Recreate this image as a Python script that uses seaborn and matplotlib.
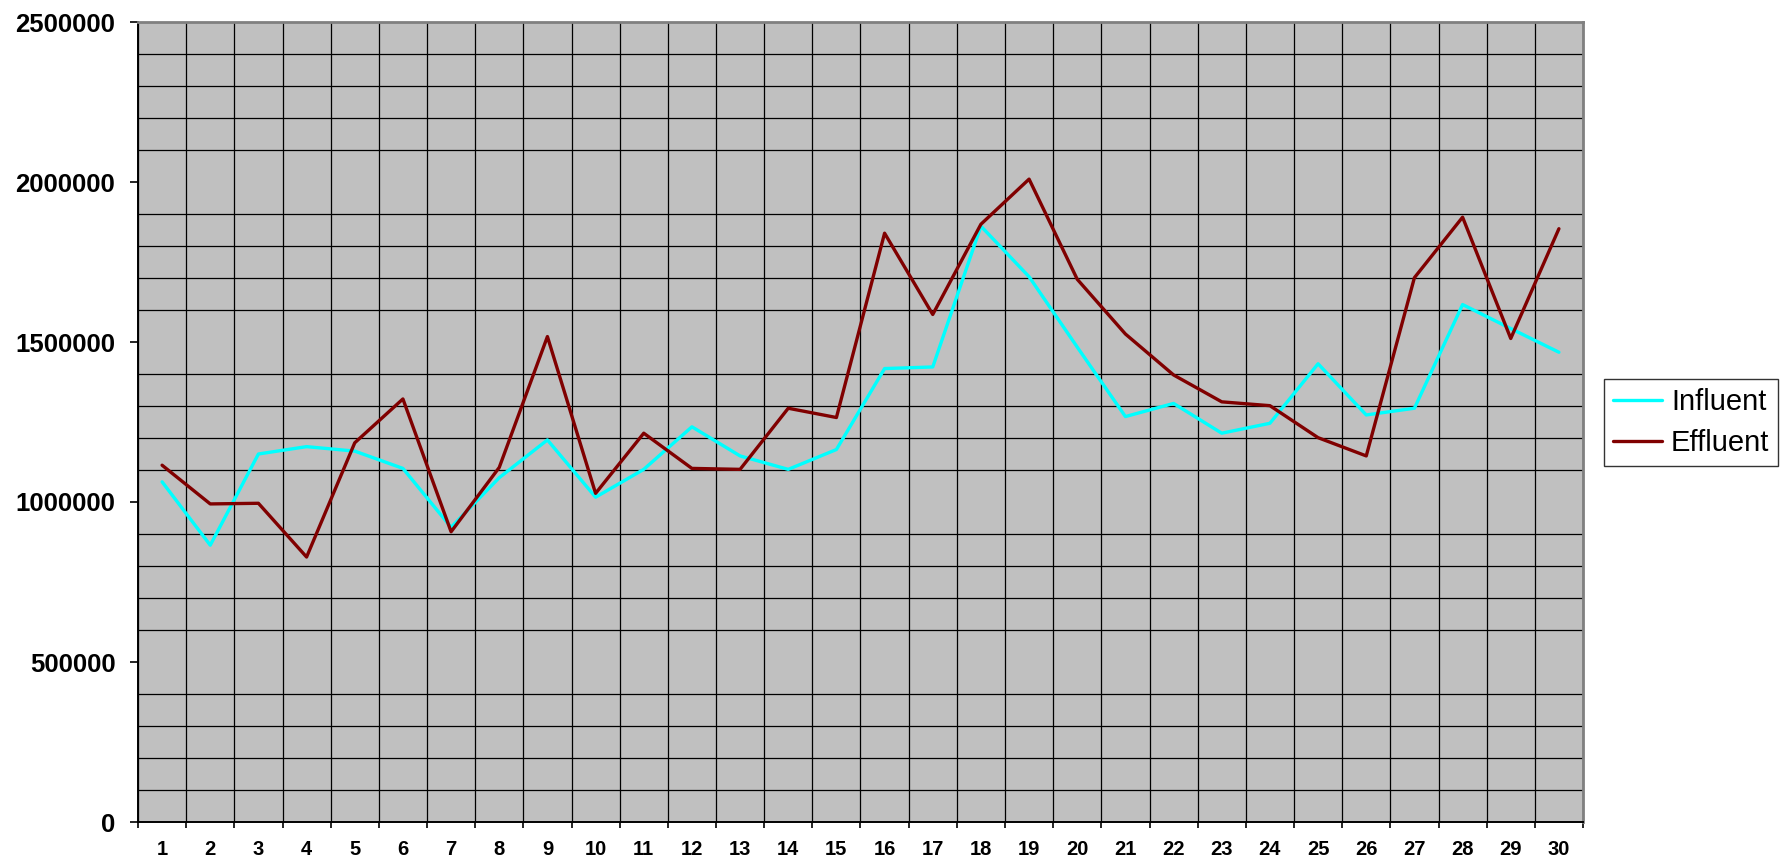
import numpy as np
import pandas as pd
import matplotlib
matplotlib.use("Agg")
import matplotlib.pyplot as plt
from matplotlib.ticker import MultipleLocator, FixedLocator
import seaborn as sns

days = list(range(1, 31))
influent = [1063000, 865000, 1150000, 1173000, 1159000, 1105000, 921000, 1076000, 1194000, 1015000,
            1102000, 1235000, 1144000, 1102000, 1164000, 1417000, 1422000, 1862000, 1704000, 1484000,
            1267000, 1308000, 1215000, 1246000, 1432000, 1272000, 1293000, 1617000, 1542000, 1468000]
effluent = [1115000, 994000, 996000, 828000, 1185000, 1322000, 907000, 1108000, 1517000, 1027000,
            1215000, 1105000, 1102000, 1293000, 1264000, 1840000, 1586000, 1868000, 2009000, 1696000,
            1525000, 1397000, 1313000, 1301000, 1201000, 1144000, 1701000, 1890000, 1511000, 1854000]
series_names = ["Influent", "Effluent"]
y_ticks = [0, 500000, 1000000, 1500000, 2000000, 2500000]

df = pd.DataFrame({
    "day": days * 2,
    "value": influent + effluent,
    "series": [series_names[0]] * len(days) + [series_names[1]] * len(days),
})

sns.set_theme(style="white")
plt.rcParams["font.family"] = ["Liberation Sans", "DejaVu Sans"]

fig = plt.figure(figsize=(17.89, 8.68), dpi=100)
ax = fig.add_axes([138 / 1789, 1 - 822 / 868, (1583 - 138) / 1789, 800 / 868])
ax.set_facecolor("#C0C0C0")

sns.lineplot(data=df, x="day", y="value", hue="series",
             palette={"Influent": "#00FFFF", "Effluent": "#800000"},
             linewidth=2.4, ax=ax, legend=True, zorder=3)

ax.set_xlim(0.5, 30.5)
ax.set_ylim(0, 2500000)
ax.xaxis.set_major_locator(FixedLocator(days))
ax.xaxis.set_minor_locator(FixedLocator([d + 0.5 for d in range(0, 31)]))
ax.set_xticklabels([str(d) for d in days])
ax.yaxis.set_major_locator(FixedLocator(y_ticks))
ax.yaxis.set_minor_locator(MultipleLocator(100000))
ax.set_yticklabels([str(v) for v in y_ticks])

ax.grid(False)
ax.grid(which="minor", axis="both", color="black", linewidth=0.9, zorder=1)
ax.set_axisbelow(True)

ax.tick_params(axis="x", which="major", length=0, pad=13, labelsize=14.5)
ax.tick_params(axis="x", which="minor", length=4.3, width=1.2, color="black", direction="out", bottom=True)
ax.tick_params(axis="y", which="major", length=5.8, width=1.2, color="black", direction="out", left=True,
               labelsize=18.5, pad=10.5)
ax.tick_params(axis="y", which="minor", length=0)
for lab in ax.get_xticklabels() + ax.get_yticklabels():
    lab.set_fontweight("bold")
    lab.set_color("black")

ax.set_xlabel("")
ax.set_ylabel("")
for s in ["left", "bottom"]:
    ax.spines[s].set_color("black")
    ax.spines[s].set_linewidth(1.4)
for s in ["top", "right"]:
    ax.spines[s].set_color("#808080")
    ax.spines[s].set_linewidth(2)

handles, labels = ax.get_legend_handles_labels()
if ax.get_legend():
    ax.get_legend().remove()
leg = fig.legend(handles, labels, loc="upper left",
                 bbox_to_anchor=(1604 / 1789, 1 - 379 / 868),
                 frameon=True, fancybox=False, fontsize=21, edgecolor="black",
                 handlelength=1.7, handletextpad=0.3, borderpad=0.3, labelspacing=0.45,
                 borderaxespad=0)
leg.get_frame().set_linewidth(1.0)
for t in leg.get_texts():
    t.set_color("black")

fig.savefig("out.png", dpi=100)
